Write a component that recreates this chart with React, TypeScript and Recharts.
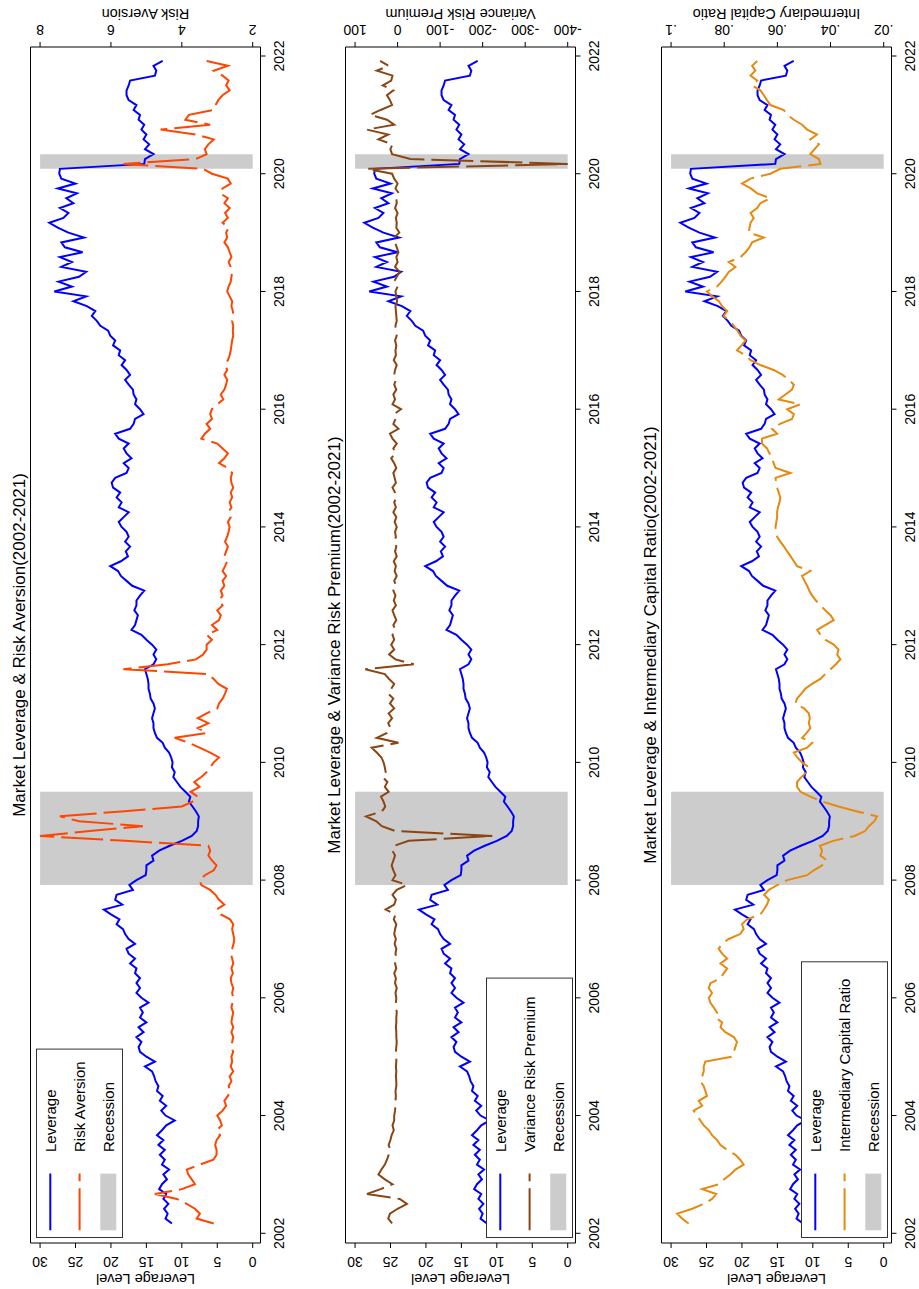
import { ComposedChart, Line, XAxis, YAxis, ReferenceArea, Legend } from "recharts"

// monthly observations, first one is 2002m3
const FIRST_YEAR = 2002
const FIRST_MONTH = 3

const leverage = [
  11.4, 12.3, 12.0, 12.5, 11.9, 12.6, 12.2, 13.2, 12.8, 12.1,
  12.6, 11.8, 12.8, 12.4, 13.1, 12.4, 13.3, 12.6, 13.5, 12.8, 12.2, 11.0,
  12.3, 12.9, 12.2, 13.1, 12.7, 13.5, 13.3, 13.7, 13.9, 14.2, 15.2, 13.8,
  15.0, 15.9, 16.1, 15.7, 16.4, 15.4, 16.1, 15.0, 15.9, 15.5, 15.9, 14.7,
  15.7, 16.4, 15.9, 16.4, 15.9, 16.6, 16.4, 17.3, 16.6, 17.5, 17.8, 16.6,
  17.5, 18.0, 18.3, 19.2, 18.8, 20.0, 21.0, 18.4, 19.4, 19.2, 16.9, 17.4,
  16.4, 15.1, 15.0, 15.0, 14.0, 14.2, 13.2, 11.7, 10.0, 8.6, 7.9, 7.7,
  7.7, 7.6, 8.0, 8.5, 9.0, 8.8, 9.5, 10.2, 10.7, 11.2, 11.0, 11.4,
  11.3, 11.5, 11.8, 12.4, 12.7, 13.5, 13.8, 14.0, 14.0, 14.2, 14.0, 13.8,
  14.0, 14.4, 14.5, 14.7, 14.7, 14.8, 15.0, 15.2, 14.0, 13.6, 14.0, 13.6,
  14.2, 15.0, 15.7, 17.1, 16.6, 16.4, 16.2, 16.7, 16.4, 16.4, 15.9, 15.3,
  17.0, 17.8, 18.6, 19.0, 20.1, 18.6, 17.6, 17.9, 17.3, 18.0, 17.5, 17.8,
  18.5, 18.9, 18.2, 17.5, 18.9, 18.5, 19.2, 18.7, 19.7, 19.9, 19.4, 17.8,
  17.5, 18.2, 17.1, 17.8, 18.2, 17.5, 18.9, 19.4, 17.3, 16.8, 16.6, 15.4,
  15.9, 16.6, 16.4, 16.8, 16.9, 17.5, 18.0, 17.3, 17.8, 18.5, 18.0, 18.9,
  18.7, 19.7, 19.4, 20.1, 20.4, 21.5, 22.0, 22.7, 22.2, 23.4, 25.3, 23.5,
  28.0, 25.5, 27.4, 24.5, 23.5, 27.0, 25.5, 27.2, 24.0, 26.5, 27.0, 23.8,
  26.0, 27.5, 28.7, 26.7, 26.0, 27.2, 25.3, 26.3, 24.8, 27.5, 25.0, 27.0,
  27.3, 27.2, 15.3, 15.2, 14.0, 15.2, 14.6, 15.4, 15.0, 15.7, 15.3, 16.1,
  15.9, 16.8, 16.4, 17.5, 17.8, 17.8, 17.5, 17.3, 13.8, 13.6, 14.0, 12.7,
]

const riskAversion = [
  3.1, 3.58, 3.49, 3.63, 3.86, 4.14, 4.76, 4.0, 3.63, 3.72,
  3.82, 3.86, 3.49, 3.11, 3.02, 3.02, 3.06, 3.02, 2.92, 3.02, 2.87, 2.92,
  3.0, 2.85, 2.75, 2.8, 2.7, 2.62, 2.68, 2.6, 2.65, 2.55, 2.62, 2.58,
  2.6, 2.55, 2.62, 2.58, 2.55, 2.6, 2.55, 2.6, 2.58, 2.55, 2.6, 2.57,
  2.55, 2.58, 2.55, 2.6, 2.62, 2.56, 2.6, 2.55, 2.58, 2.62, 2.58, 2.54,
  2.52, 2.55, 2.58, 2.55, 2.64, 2.9, 3.02, 2.8, 2.95, 3.05, 3.2, 3.45,
  3.5, 3.35, 3.1, 3.02, 3.15, 3.25, 3.2, 3.25, 5.6, 8.0, 6.6, 5.1,
  6.9, 7.44, 5.7, 4.0, 3.7, 3.55, 3.75, 3.5, 3.65, 3.45, 3.3, 3.2,
  3.1, 2.95, 3.2, 3.5, 3.8, 4.2, 3.3, 3.55, 3.25, 3.55, 3.3, 3.0,
  2.95, 2.85, 2.78, 2.73, 2.97, 3.1, 3.25, 5.65, 4.4, 3.6, 3.4, 3.3,
  3.3, 3.15, 3.3, 3.0, 3.15, 2.95, 2.9, 3.0, 2.85, 2.95, 2.85, 2.9,
  2.8, 2.85, 2.75, 2.85, 2.78, 2.72, 2.8, 2.75, 2.7, 2.78, 2.72, 2.68,
  2.65, 2.7, 2.62, 2.68, 2.6, 2.65, 2.58, 2.62, 2.55, 2.6, 2.62, 2.58,
  2.7, 2.95, 2.8, 2.7, 2.85, 3.0, 3.45, 3.35, 3.2, 3.3, 3.15, 3.2,
  3.15, 3.0, 2.83, 2.9, 2.8, 2.75, 2.72, 2.8, 2.72, 2.78, 2.7, 2.65,
  2.62, 2.6, 2.58, 2.55, 2.56, 2.55, 2.58, 2.55, 2.56, 2.6, 2.58, 2.65,
  2.72, 2.68, 2.62, 2.6, 2.58, 2.62, 2.68, 2.6, 2.65, 2.7, 2.8, 2.72,
  2.75, 2.68, 2.85, 2.7, 2.78, 2.65, 2.8, 2.7, 2.92, 2.85, 2.62, 2.7,
  3.15, 3.4, 5.65, 3.6, 3.3, 3.35, 3.25, 3.1, 3.6, 4.6, 3.2, 3.9,
  3.8, 3.1, 3.05, 2.97, 2.85, 2.65, 2.75, 2.68, 2.85, 3.1, 2.7, 3.3,
]

const varianceRiskPremium = [
  13, 22, 18, 0, -22, -5, 72, 40, 12, 30,
  45, 38, 30, 25, 21, 17, 21, 17, 14, 9, 12, 8,
  8, 6, 5, 5, 4, 5, 3, 3, 4, 3, 4, 3,
  3, 4, 3, 2, 3, 3, 4, 3, 3, 2, 3, 4,
  3, 5, 2, 6, 4, 8, 3, 6, 2, 5, 3, 7,
  4, 8, 6, 3, 9, 5, 28, 8, 4, 12, 2, -22,
  12, 5, 10, 14, 10, 6, 12, 8, -26, -223, 5, 37,
  50, 74, 37, 29, 33, 39, 21, 30, 24, 35, 28, 30,
  33, 38, 49, 61, -2, 49, 25, 17, 22, 13, 21, 8,
  18, 10, 22, 15, 8, 20, 30, 76, -38, 5, 20, 8,
  15, 8, 12, 5, 10, 3, 8, 12, 4, 9, 5, 10,
  3, 8, 2, 7, 4, 9, 2, 6, 3, 8, 4, 6,
  2, 7, 3, 10, 4, 8, 3, 6, 12, 4, 7, 10,
  3, 8, 15, 5, 10, 2, 12, 18, -2, 10, 5, 8,
  -8, 12, 6, 10, 3, 8, 4, 8, 6, 2, 9, 4,
  5, 3, 6, 2, 4, 5, 2, 3, 4, 5, 1, 3,
  5, 0, 8, 2, -5, 6, 0, 3, -2, 2, 6, 8,
  -4, 3, 2, 4, 0, 6, 2, 3, -3, 5, 0, 8,
  13, 72, -400, -30, 13, 17, 12, 45, 22, 72, 8, 25,
  65, 40, 13, 18, 25, 10, 35, 15, 12, 49, 21, 41,
]

const capitalRatio = [
  0.0934, 0.0959, 0.0977, 0.092, 0.0877, 0.0846, 0.083, 0.0883, 0.082, 0.08,
  0.0777, 0.0758, 0.0727, 0.074, 0.0758, 0.0789, 0.0814, 0.0827, 0.0846, 0.0858, 0.0877, 0.089,
  0.0902, 0.0915, 0.0883, 0.0896, 0.0865, 0.0871, 0.0877, 0.089, 0.0883, 0.0877, 0.0877, 0.0871,
  0.077, 0.0764, 0.0758, 0.0752, 0.0764, 0.0796, 0.0814, 0.0808, 0.0833, 0.0827, 0.0839, 0.0852,
  0.0858, 0.0846, 0.0858, 0.0852, 0.0814, 0.0802, 0.0789, 0.0814, 0.0789, 0.0808, 0.0821, 0.0808,
  0.0783, 0.074, 0.0727, 0.0733, 0.0714, 0.0664, 0.0651, 0.0639, 0.0632, 0.065, 0.0632, 0.06,
  0.0563, 0.0488, 0.0463, 0.0432, 0.0413, 0.0438, 0.0432, 0.044, 0.039, 0.031, 0.027, 0.0256,
  0.0235, 0.0225, 0.03, 0.037, 0.043, 0.0476, 0.0513, 0.0526, 0.0526, 0.051, 0.049, 0.0482,
  0.0507, 0.0525, 0.0538, 0.0488, 0.0469, 0.0507, 0.049, 0.0476, 0.0482, 0.0478, 0.0482, 0.05,
  0.0532, 0.0526, 0.051, 0.0495, 0.047, 0.0438, 0.042, 0.04, 0.038, 0.0363, 0.0375, 0.037,
  0.0388, 0.042, 0.0438, 0.045, 0.042, 0.0388, 0.04, 0.042, 0.0438, 0.0455, 0.0469, 0.048,
  0.0488, 0.0498, 0.0507, 0.0476, 0.0526, 0.0538, 0.055, 0.0563, 0.0575, 0.0589, 0.0601, 0.0605,
  0.0607, 0.0604, 0.0601, 0.0601, 0.0598, 0.0592, 0.0589, 0.0595, 0.0601, 0.0604, 0.0607, 0.0551,
  0.0607, 0.0614, 0.062, 0.063, 0.0639, 0.0658, 0.0658, 0.0601, 0.062, 0.059, 0.0545, 0.0538,
  0.0563, 0.0513, 0.0595, 0.057, 0.0545, 0.0538, 0.0557, 0.058, 0.0614, 0.0664, 0.0701, 0.072,
  0.0752, 0.0735, 0.072, 0.0739, 0.075, 0.0764, 0.078, 0.0802, 0.0789, 0.0808, 0.082, 0.0845,
  0.0865, 0.0827, 0.081, 0.0795, 0.0783, 0.0758, 0.0783, 0.0739, 0.072, 0.0705, 0.0695, 0.0651,
  0.0708, 0.0705, 0.0701, 0.0689, 0.0701, 0.0676, 0.0664, 0.0626, 0.0676, 0.07, 0.0733, 0.0701,
  0.0626, 0.0589, 0.0438, 0.0444, 0.0476, 0.046, 0.0444, 0.0476, 0.0451, 0.0488, 0.0507, 0.0538,
  0.0563, 0.0576, 0.0626, 0.0639, 0.0651, 0.0664, 0.0695, 0.0676, 0.0701, 0.0683, 0.0695, 0.0676,
]

const yearTicks = [2002, 2004, 2006, 2008, 2010, 2012, 2014, 2016, 2018, 2020, 2022]
const leverageTicks = [0, 5, 10, 15, 20, 25, 30]
const riskTicks = [2, 4, 6, 8]
const vrpTicks = [-400, -300, -200, -100, 0, 100]
const icrTicks = [0.02, 0.04, 0.06, 0.08, 0.1]
const recessionStart = [2007.917, 2020.083]
const recessionEnd = [2009.5, 2020.333]

const FONT = '"Liberation Sans", Arial, Helvetica, sans-serif'
const W = 1289
const H = 289
const PLOT_LEFT = 46
const PLOT_RIGHT = 1242
const PLOT_TOP = 30.5
const PLOT_BOTTOM = 260.5
const X_DOMAIN = [2001.835, 2022.153]
const LEV_DOMAIN = [-1.1, 31.35]
const DASH = "42 7"

const rows = leverage.map((lev, i) => ({
  t: FIRST_YEAR + (FIRST_MONTH - 1 + i) / 12,
  lev,
  ra: riskAversion[i],
  vrp: varianceRiskPremium[i],
  icr: capitalRatio[i],
}))

const plain = (v: number) => String(v)
const stataDecimal = (v: number) => (v === 0.1 ? ".1" : "." + Math.round(v * 100).toString().padStart(2, "0"))

function verticalTick(format: (v: number) => string) {
  return (p: any) => (
    <text
      x={p.x}
      y={p.y}
      transform={`rotate(-90 ${p.x} ${p.y})`}
      textAnchor="middle"
      fontSize={14}
      fontFamily={FONT}
      fill="#000"
    >
      {format(p.payload.value)}
    </text>
  )
}

function LegendBox({ name, color, width }: { name: string; color: string; width: number }) {
  return (
    <svg width={width} height={87} style={{ display: "block" }}>
      <rect x={0.5} y={0.5} width={width - 1} height={86} fill="#fff" stroke="#333" strokeWidth={1} />
      <line x1={7.7} x2={64.4} y1={14.3} y2={14.3} stroke="#0000FF" strokeWidth={2} />
      <text x={86} y={20} fontSize={15} fontFamily={FONT} fill="#000">Leverage</text>
      <line x1={7.7} x2={64.4} y1={43.6} y2={43.6} stroke={color} strokeWidth={2} strokeDasharray={DASH} />
      <text x={86} y={48.5} fontSize={15} fontFamily={FONT} fill="#000">{name}</text>
      <rect x={7.7} y={64.3} width={56.7} height={16} fill="#CCCCCC" />
      <text x={86} y={77.7} fontSize={15} fontFamily={FONT} fill="#000">Recession</text>
    </svg>
  )
}

interface PanelProps {
  top: number
  title: string
  dataKey: string
  name: string
  color: string
  domain: number[]
  ticks: number[]
  format: (v: number) => string
  legendTop: number
  legendWidth: number
}

function Panel({ top, title, dataKey, name, color, domain, ticks, format, legendTop, legendWidth }: PanelProps) {
  const midY = (PLOT_TOP + PLOT_BOTTOM) / 2
  return (
    <div style={{ position: "absolute", left: 0, top, width: W, height: H }}>
      <ComposedChart width={W} height={H} data={rows} margin={{ top: PLOT_TOP, right: 0, bottom: 0, left: 0 }}>
        <XAxis
          dataKey="t"
          type="number"
          scale="linear"
          domain={X_DOMAIN}
          ticks={yearTicks}
          allowDataOverflow
          interval={0}
          height={H - PLOT_BOTTOM}
          tickSize={5}
          tickMargin={8.5}
          axisLine={{ stroke: "#000" }}
          tickLine={{ stroke: "#000" }}
          tick={{ fontSize: 14, fill: "#000", fontFamily: FONT }}
        />
        <YAxis
          yAxisId="L"
          domain={LEV_DOMAIN}
          ticks={leverageTicks}
          allowDataOverflow
          interval={0}
          width={PLOT_LEFT}
          tickSize={5}
          tickMargin={8.5}
          axisLine={{ stroke: "#000" }}
          tickLine={{ stroke: "#000" }}
          tick={verticalTick(plain)}
        />
        <YAxis
          yAxisId="R"
          orientation="right"
          domain={domain}
          ticks={ticks}
          allowDataOverflow
          interval={0}
          width={W - PLOT_RIGHT}
          tickSize={5}
          tickMargin={17}
          axisLine={{ stroke: "#000" }}
          tickLine={{ stroke: "#000" }}
          tick={verticalTick(format)}
        />
        {recessionStart.map((x1, i) => (
          <ReferenceArea
            key={x1}
            yAxisId="L"
            x1={x1}
            x2={recessionEnd[i]}
            y1={0}
            y2={30}
            fill="#CCCCCC"
            fillOpacity={1}
            stroke="none"
          />
        ))}
        <Line
          yAxisId="L"
          dataKey="lev"
          name="Leverage"
          type="linear"
          stroke="#0000FF"
          strokeWidth={2}
          dot={false}
          activeDot={false}
          isAnimationActive={false}
        />
        <Line
          yAxisId="R"
          dataKey={dataKey}
          name={name}
          type="linear"
          stroke={color}
          strokeWidth={2}
          strokeDasharray={DASH}
          dot={false}
          activeDot={false}
          isAnimationActive={false}
        />
        <Legend
          layout="horizontal"
          verticalAlign="middle"
          align="center"
          wrapperStyle={{ left: 51.3, top: legendTop, width: legendWidth, height: 87 }}
          content={() => <LegendBox name={name} color={color} width={legendWidth} />}
        />
      </ComposedChart>
      <svg width={W} height={H} style={{ position: "absolute", left: 0, top: 0, pointerEvents: "none" }}>
        <line x1={PLOT_LEFT} x2={PLOT_RIGHT} y1={PLOT_TOP} y2={PLOT_TOP} stroke="#000" strokeWidth={1} />
        <text x={(PLOT_LEFT + PLOT_RIGHT) / 2} y={25} textAnchor="middle" fontSize={17} fontFamily={FONT} fill="#000">
          {title}
        </text>
        <text
          x={15.5}
          y={midY}
          transform={`rotate(-90 15.5 ${midY})`}
          textAnchor="middle"
          fontSize={14.5}
          fontFamily={FONT}
          fill="#000"
        >
          Leverage Level
        </text>
        <text
          x={1280}
          y={midY}
          transform={`rotate(-90 1280 ${midY})`}
          textAnchor="middle"
          fontSize={14.5}
          fontFamily={FONT}
          fill="#000"
        >
          {name}
        </text>
      </svg>
    </div>
  )
}

export default function App() {
  return (
    <div style={{ position: "absolute", left: 0, top: 0, width: 919, height: 1289, overflow: "hidden", background: "#fff" }}>
      <div
        style={{
          position: "absolute",
          left: 0,
          top: 0,
          width: W,
          height: 919,
          transformOrigin: "0 0",
          transform: "translateY(1289px) rotate(-90deg)",
          fontFamily: FONT,
        }}
      >
        <Panel
          top={0}
          title="Market Leverage & Risk Aversion(2002-2021)"
          dataKey="ra"
          name="Risk Aversion"
          color="#FF4500"
          domain={[1.78, 8.27]}
          ticks={riskTicks}
          format={plain}
          legendTop={35.7}
          legendWidth={189.4}
        />
        <Panel
          top={315}
          title="Market Leverage & Variance Risk Premium(2002-2021)"
          dataKey="vrp"
          name="Variance Risk Premium"
          color="#8B4513"
          domain={[-418.33, 122.5]}
          ticks={vrpTicks}
          format={plain}
          legendTop={170.7}
          legendWidth={260.4}
        />
        <Panel
          top={630.5}
          title="Market Leverage & Intermediary Capital Ratio(2002-2021)"
          dataKey="icr"
          name="Intermediary Capital Ratio"
          color="#E8890F"
          domain={[0.017067, 0.1036]}
          ticks={icrTicks}
          format={stataDecimal}
          legendTop={170.2}
          legendWidth={276.7}
        />
      </div>
    </div>
  )
}
